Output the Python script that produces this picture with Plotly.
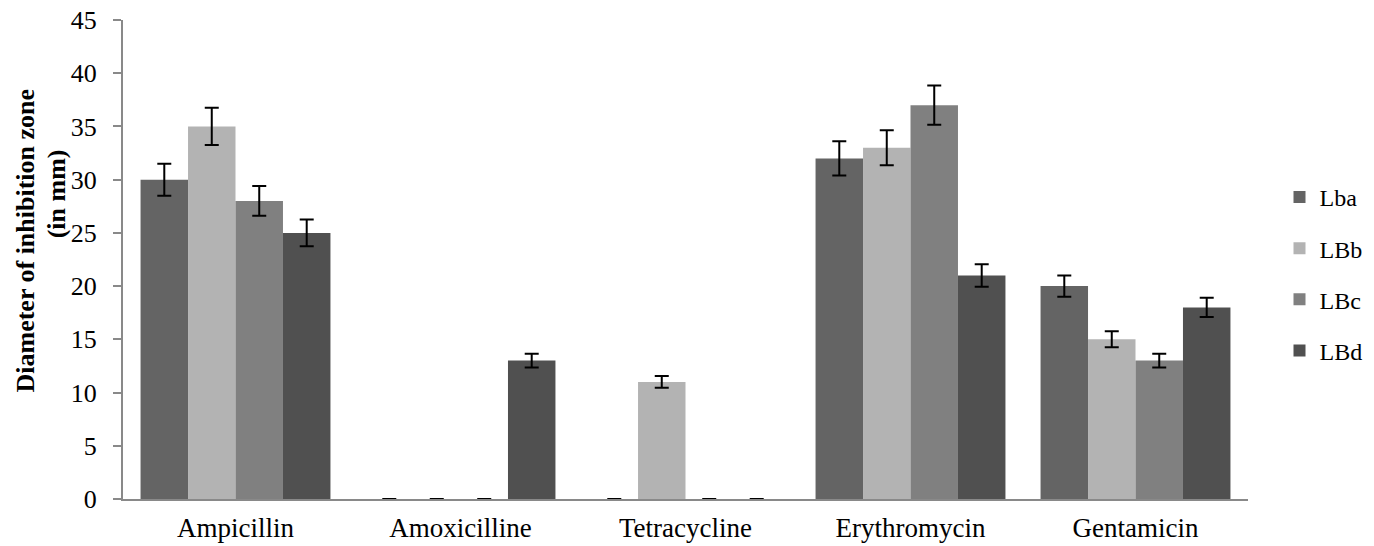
import plotly.graph_objects as go

categories = ["Ampicillin", "Amoxicilline", "Tetracycline", "Erythromycin", "Gentamicin"]
series_names = ["Lba", "LBb", "LBc", "LBd"]
lba = [30, 0, 0, 32, 20]
lbb = [35, 0, 11, 33, 15]
lbc = [28, 0, 0, 37, 13]
lbd = [25, 13, 0, 21, 18]
err_lba = [1.5, 0, 0, 1.6, 1.0]
err_lbb = [1.75, 0, 0.55, 1.65, 0.75]
err_lbc = [1.4, 0, 0, 1.85, 0.65]
err_lbd = [1.25, 0.65, 0, 1.05, 0.9]
y_ticks = [0, 5, 10, 15, 20, 25, 30, 35, 40, 45]

colors = ["#646464", "#b3b3b3", "#808080", "#505050"]
values = [lba, lbb, lbc, lbd]
errors = [err_lba, err_lbb, err_lbc, err_lbd]

FONT = "Liberation Serif, Times New Roman, serif"

fig = go.Figure()
for name, vals, errs, col in zip(series_names, values, errors, colors):
    fig.add_trace(go.Bar(
        x=categories, y=vals, name=name, legendgroup=name,
        marker=dict(color=col, line=dict(width=0)),
        error_y=dict(type="data", array=errs, visible=True,
                     color="black", thickness=2, width=7),
    ))

fig.update_layout(
    width=1366, height=538,
    paper_bgcolor="white", plot_bgcolor="white",
    margin=dict(l=115, r=126, t=12, b=47, autoexpand=False),
    barmode="group", bargap=0.156, bargroupgap=0,
    font=dict(family=FONT, size=26, color="black"),
    showlegend=True,
    legend=dict(x=1.028, xanchor="left", y=0.470, yanchor="middle",
                font=dict(family=FONT, size=24, color="black"),
                tracegroupgap=17, traceorder="grouped",
                bgcolor="rgba(0,0,0,0)"),
)
fig.update_xaxes(
    showline=True, linecolor="#898989", linewidth=2,
    ticks="", showgrid=False, zeroline=False, ticklabelstandoff=4,
    ticklabeloverflow="allow",
    tickfont=dict(family=FONT, size=27, color="black"),
)
fig.update_yaxes(
    range=[0, 45], tickvals=y_ticks, showline=True, linecolor="#898989",
    linewidth=2, ticks="outside", ticklen=8, tickwidth=2, tickcolor="#898989",
    showgrid=False, zeroline=False, ticklabelstandoff=11,
    ticklabeloverflow="allow",
    tickfont=dict(family=FONT, size=26, color="black"),
)
fig.add_annotation(
    text="<b>Diameter of inhibition zone</b>", textangle=-90,
    xref="paper", yref="paper", x=-0.0871, y=0.5397, xanchor="center", yanchor="middle",
    showarrow=False, font=dict(family=FONT, size=26, color="black"),
)
fig.add_annotation(
    text="<b>(in mm)</b>", textangle=-90,
    xref="paper", yref="paper", x=-0.0596, y=0.638, xanchor="center", yanchor="middle",
    showarrow=False, font=dict(family=FONT, size=26, color="black"),
)

fig.write_html("out.html")
